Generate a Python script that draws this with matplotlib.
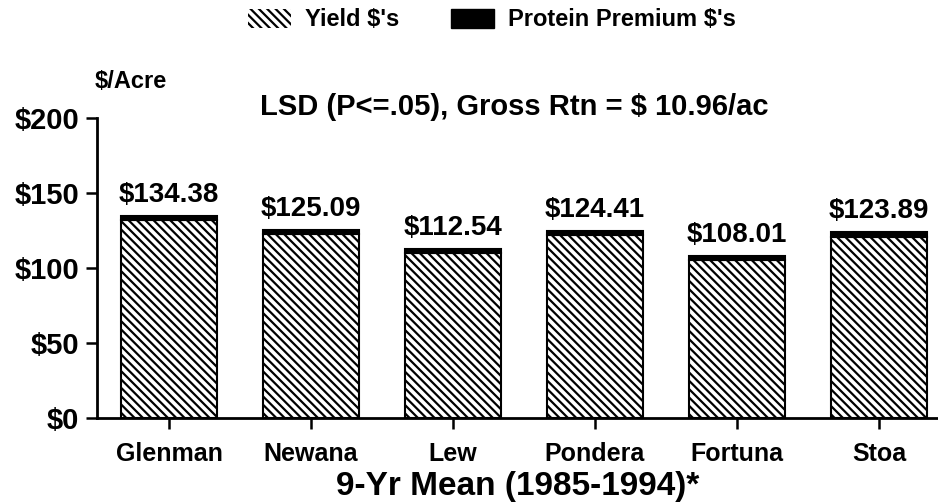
import matplotlib.pyplot as plt
import numpy as np
from matplotlib.patches import Patch

plt.rcParams['font.family'] = ['Liberation Sans', 'DejaVu Sans']
plt.rcParams['hatch.linewidth'] = 1.6

varieties = ['Glenman', 'Newana', 'Lew', 'Pondera', 'Fortuna', 'Stoa']
totals = [134.38, 125.09, 112.54, 124.41, 108.01, 123.89]
# protein premium is only a thin black cap on each bar
premium = [2.4, 2.4, 2.4, 2.4, 2.4, 3.0]
yield_dollars = [t - p for t, p in zip(totals, premium)]
yticks = [0, 50, 100, 150, 200]
ytick_labels = ['$0', '$50', '$100', '$150', '$200']

fig = plt.figure(figsize=(9.38, 5.04), dpi=100)
ax = fig.add_axes([97 / 938, 1 - 418 / 504, 841 / 938, 300 / 504])

x = np.arange(len(varieties))
ax.bar(x, yield_dollars, width=0.68, color='white', edgecolor='black',
       hatch='\\\\\\\\', linewidth=1.5)
ax.bar(x, premium, width=0.68, bottom=yield_dollars, color='black',
       edgecolor='black', linewidth=1.5)

for xi, t in zip(x, totals):
    ax.annotate(f'${t:.2f}', (xi, t), xytext=(0, 6), textcoords='offset points',
                ha='center', va='bottom', fontsize=20, fontweight='bold')

ax.set_xlim(-0.507, -0.507 + 841 / 142)
ax.set_ylim(0, 200)
ax.set_yticks(yticks)
ax.set_yticklabels(ytick_labels, fontsize=21, fontweight='bold')
ax.set_xticks(x)
ax.set_xticklabels(varieties, fontsize=18, fontweight='bold')
ax.tick_params(axis='both', direction='out', length=8, width=1.8, pad=5)
ax.tick_params(axis='x', pad=9)
for s in ['top', 'right']:
    ax.spines[s].set_visible(False)
for s in ['left', 'bottom']:
    ax.spines[s].set_linewidth(2)

ax.set_xlabel('9-Yr Mean (1985-1994)*', fontsize=24, fontweight='bold', labelpad=4)

fig.text(95 / 938, 1 - 82 / 504, '$/Acre', fontsize=17, fontweight='bold',
         ha='left', va='center')
fig.text(514 / 938, 1 - 107 / 504, 'LSD (P<=.05), Gross Rtn = $ 10.96/ac',
         fontsize=21, fontweight='bold', ha='center', va='center')

handles = [Patch(facecolor='white', edgecolor='black', hatch='\\\\\\\\', linewidth=0),
           Patch(facecolor='black', edgecolor='black')]
fig.legend(handles, ["Yield $'s", "Protein Premium $'s"], loc='center',
           bbox_to_anchor=(492 / 938, 1 - 20 / 504), ncol=2, frameon=False,
           prop={'size': 17, 'weight': 'bold'}, handlelength=1.8, handleheight=0.9,
           columnspacing=2.2, handletextpad=0.6)

fig.savefig('out.png', dpi=100)
